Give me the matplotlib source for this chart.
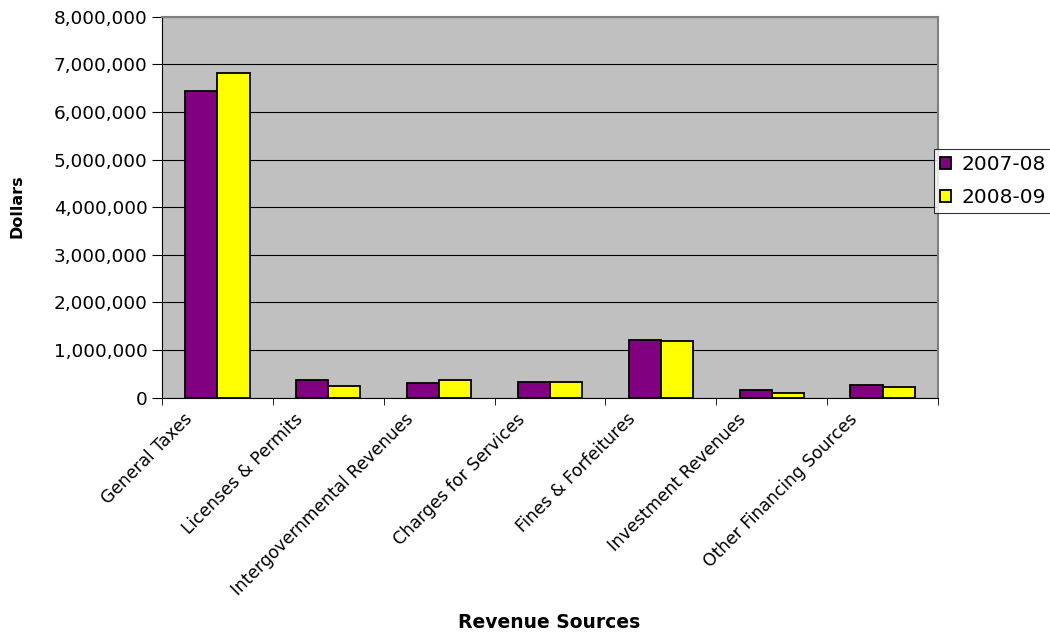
import numpy as np
import matplotlib.pyplot as plt
from matplotlib.ticker import FuncFormatter
from matplotlib.transforms import ScaledTranslation

plt.rcParams['font.family'] = ['DejaVu Sans']

categories = ['General Taxes', 'Licenses & Permits', 'Intergovernmental Revenues',
              'Charges for Services', 'Fines & Forfeitures', 'Investment Revenues',
              'Other Financing Sources']
fy_2007_08 = [6450000, 370000, 300000, 330000, 1210000, 150000, 260000]
fy_2008_09 = [6820000, 250000, 370000, 330000, 1180000, 105000, 220000]
series_names = ['2007-08', '2008-09']

fig = plt.figure(figsize=(10.5, 6.34), dpi=100)
ax = fig.add_axes([0.1543, 0.373, 0.739, 0.6006])
ax.set_facecolor('#C0C0C0')

x = np.arange(len(categories))
w = 0.29
ax.bar(x - w / 2, fy_2007_08, w, color='#800080', edgecolor='black', lw=1.3,
       label=series_names[0], zorder=3)
ax.bar(x + w / 2, fy_2008_09, w, color='#FFFF00', edgecolor='black', lw=1.3,
       label=series_names[1], zorder=3)

ax.set_xlim(-0.5, len(categories) - 0.5)
ax.set_ylim(0, 8000000)
ax.set_yticks(np.arange(0, 8000001, 1000000))
ax.yaxis.set_major_formatter(FuncFormatter(lambda v, p: f'{int(v):,}'))
ax.grid(axis='y', color='black', lw=0.8, zorder=1)

# category labels at centres, tick marks at the boundaries (Excel style)
ax.set_xticks(x)
ax.set_xticklabels(categories, rotation=45, ha='right', va='center',
                   rotation_mode='anchor', fontsize=12.3)
ax.tick_params(axis='x', length=0, pad=0)
shift = ScaledTranslation(-0.28, -0.19, fig.dpi_scale_trans)
for lab in ax.get_xticklabels():
    lab.set_transform(lab.get_transform() + shift)
ax.set_xticks(np.arange(-0.5, len(categories) + 0.5, 1), minor=True)
ax.tick_params(axis='x', which='minor', length=5, color='black')
ax.tick_params(axis='y', labelsize=13.3, length=7.5, pad=3, color='black')

for side in ['top', 'right']:
    ax.spines[side].set_color('#808080')
    ax.spines[side].set_linewidth(1.5)
for side in ['left', 'bottom']:
    ax.spines[side].set_color('black')

fig.text(17 / 1050, 1 - 206 / 634, 'Dollars', fontsize=11.5, fontweight='bold',
         rotation=90, ha='center', va='center')
fig.text(549 / 1050, 1 - 623 / 634, 'Revenue Sources', fontsize=13.5,
         fontweight='bold', ha='center', va='center')

leg = ax.legend(loc='upper left', bbox_to_anchor=(934 / 1050, 1 - 149 / 634),
                bbox_transform=fig.transFigure, fontsize=14.5, frameon=True,
                fancybox=False, edgecolor='black', handlelength=0.55,
                handleheight=0.55, handletextpad=0.5, borderpad=0.3,
                labelspacing=0.68, borderaxespad=0)
leg.get_frame().set_linewidth(0.8)

fig.savefig('out.png', dpi=100)
